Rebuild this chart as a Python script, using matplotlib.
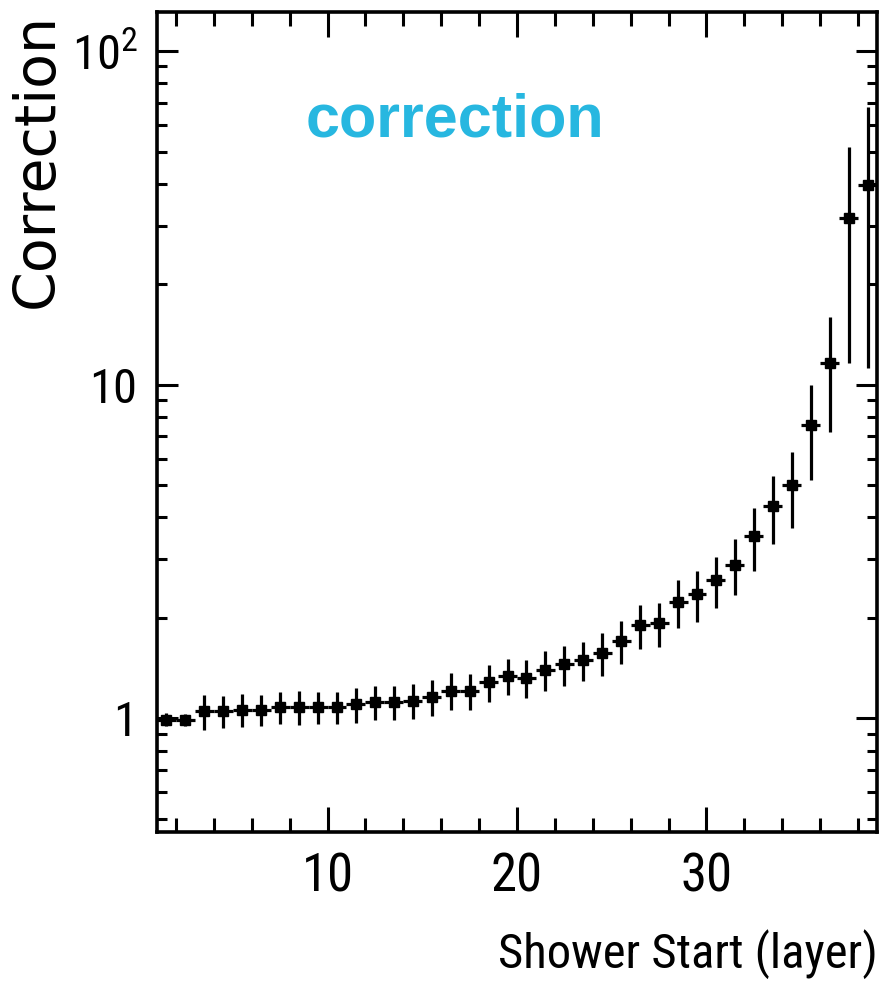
import matplotlib
matplotlib.use("Agg")
import matplotlib.pyplot as plt
from matplotlib.ticker import FixedLocator, FixedFormatter, NullFormatter

# Shower start layer bins (centres, width 1) and correction factors
layer_centers = [1.5 + i for i in range(38)]
correction = [0.99, 0.99, 1.05, 1.05, 1.06, 1.06, 1.08, 1.08, 1.08, 1.08,
              1.10, 1.12, 1.12, 1.13, 1.16, 1.21, 1.21, 1.28, 1.34, 1.32,
              1.40, 1.45, 1.49, 1.57, 1.70, 1.90, 1.93, 2.23, 2.35, 2.59,
              2.89, 3.51, 4.32, 5.00, 7.58, 11.6, 31.6, 39.7]
correction_err = [0.045, 0.04, 0.125, 0.115, 0.12, 0.11, 0.12, 0.125, 0.12, 0.12,
                  0.13, 0.13, 0.13, 0.135, 0.145, 0.155, 0.15, 0.16, 0.17, 0.17,
                  0.19, 0.20, 0.20, 0.23, 0.25, 0.29, 0.29, 0.37, 0.41, 0.45,
                  0.55, 0.75, 1.0, 1.27, 2.4, 4.4, 20.0, 28.5]
bin_half_width = 0.5

y_tick_values = [1, 10, 100]
y_tick_labels = ["1", "10", "10$^2$"]
x_tick_values = [10, 20, 30]
x_tick_labels = ["10", "20", "30"]

narrow_font = ["Roboto Condensed", "DejaVu Sans"]
plt.rcParams["font.family"] = narrow_font
plt.rcParams["mathtext.fontset"] = "custom"
plt.rcParams["mathtext.rm"] = "Roboto Condensed"
plt.rcParams["mathtext.it"] = "Roboto Condensed:italic"

fig = plt.figure(figsize=(8.93, 9.88), dpi=100)
ax = fig.add_axes([157 / 893, 1 - 832 / 988, 720 / 893, 820 / 988])

ax.errorbar(layer_centers, correction, yerr=correction_err, xerr=bin_half_width,
            fmt="s", color="black", markersize=7, elinewidth=2.3, capsize=0)

ax.set_yscale("log")
ax.set_xlim(1, 39)
ax.set_ylim(0.456, 131)

for side in ax.spines.values():
    side.set_linewidth(2.6)

ax.yaxis.set_major_locator(FixedLocator(y_tick_values))
ax.yaxis.set_major_formatter(FixedFormatter(y_tick_labels))
minor_y = [m * 10.0 ** e for e in (-1, 0, 1, 2) for m in range(2, 10)]
ax.yaxis.set_minor_locator(FixedLocator(minor_y))
ax.yaxis.set_minor_formatter(NullFormatter())
ax.xaxis.set_major_locator(FixedLocator(x_tick_values))
ax.xaxis.set_major_formatter(FixedFormatter(x_tick_labels))
ax.xaxis.set_minor_locator(FixedLocator(list(range(2, 39, 2))))

ax.tick_params(which="both", direction="in", top=True, right=True, width=2.2)
ax.tick_params(which="major", axis="y", length=15)
ax.tick_params(which="minor", axis="y", length=7.5)
ax.tick_params(which="major", axis="x", length=18)
ax.tick_params(which="minor", axis="x", length=10)
ax.tick_params(axis="x", labelsize=38, pad=14)
ax.tick_params(axis="y", labelsize=35, pad=14)

fig.text(53 / 893, 1 - 13 / 988, "Correction", rotation=90, ha="right", va="baseline",
         rotation_mode="anchor", fontsize=41, family="DejaVu Sans")
fig.text(878 / 893, 1 - 968 / 988, "Shower Start (layer)", ha="right", va="baseline",
         fontsize=35)
fig.text(455 / 893, 1 - 136.5 / 988, "correction", fontsize=44, fontweight="bold",
         family="Liberation Sans", color="#27B7E0", ha="center", va="baseline")

fig.savefig("out.png", dpi=100)
